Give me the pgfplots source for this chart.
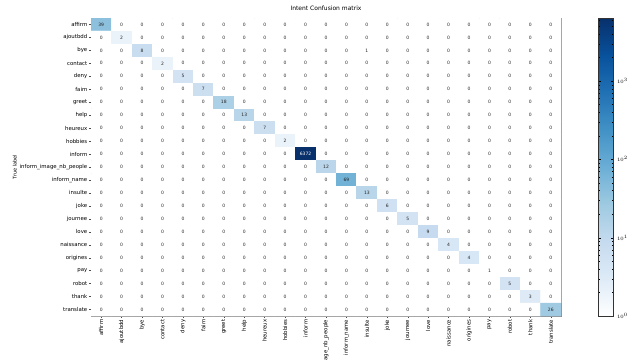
\documentclass[border=0pt]{standalone}
\usepackage{fontspec}
\setmainfont{DejaVu Sans}
\usepackage{pgfplots}
\usepackage{pgfplotstable}
\pgfplotsset{compat=1.18}
\pgfplotstableread[row sep=\\]{
x y v\\
0 0 39\\ 1 0 0\\ 2 0 0\\ 3 0 0\\ 4 0 0\\ 5 0 0\\ 6 0 0\\ 7 0 0\\ 8 0 0\\ 9 0 0\\ 10 0 0\\ 11 0 0\\ 12 0 0\\ 13 0 0\\ 14 0 0\\ 15 0 0\\ 16 0 0\\ 17 0 0\\ 18 0 0\\ 19 0 0\\ 20 0 0\\ 21 0 0\\ 22 0 0\\
0 1 0\\ 1 1 2\\ 2 1 0\\ 3 1 0\\ 4 1 0\\ 5 1 0\\ 6 1 0\\ 7 1 0\\ 8 1 0\\ 9 1 0\\ 10 1 0\\ 11 1 0\\ 12 1 0\\ 13 1 0\\ 14 1 0\\ 15 1 0\\ 16 1 0\\ 17 1 0\\ 18 1 0\\ 19 1 0\\ 20 1 0\\ 21 1 0\\ 22 1 0\\
0 2 0\\ 1 2 0\\ 2 2 8\\ 3 2 0\\ 4 2 0\\ 5 2 0\\ 6 2 0\\ 7 2 0\\ 8 2 0\\ 9 2 0\\ 10 2 0\\ 11 2 0\\ 12 2 0\\ 13 2 1\\ 14 2 0\\ 15 2 0\\ 16 2 0\\ 17 2 0\\ 18 2 0\\ 19 2 0\\ 20 2 0\\ 21 2 0\\ 22 2 0\\
0 3 0\\ 1 3 0\\ 2 3 0\\ 3 3 2\\ 4 3 0\\ 5 3 0\\ 6 3 0\\ 7 3 0\\ 8 3 0\\ 9 3 0\\ 10 3 0\\ 11 3 0\\ 12 3 0\\ 13 3 0\\ 14 3 0\\ 15 3 0\\ 16 3 0\\ 17 3 0\\ 18 3 0\\ 19 3 0\\ 20 3 0\\ 21 3 0\\ 22 3 0\\
0 4 0\\ 1 4 0\\ 2 4 0\\ 3 4 0\\ 4 4 5\\ 5 4 0\\ 6 4 0\\ 7 4 0\\ 8 4 0\\ 9 4 0\\ 10 4 0\\ 11 4 0\\ 12 4 0\\ 13 4 0\\ 14 4 0\\ 15 4 0\\ 16 4 0\\ 17 4 0\\ 18 4 0\\ 19 4 0\\ 20 4 0\\ 21 4 0\\ 22 4 0\\
0 5 0\\ 1 5 0\\ 2 5 0\\ 3 5 0\\ 4 5 0\\ 5 5 7\\ 6 5 0\\ 7 5 0\\ 8 5 0\\ 9 5 0\\ 10 5 0\\ 11 5 0\\ 12 5 0\\ 13 5 0\\ 14 5 0\\ 15 5 0\\ 16 5 0\\ 17 5 0\\ 18 5 0\\ 19 5 0\\ 20 5 0\\ 21 5 0\\ 22 5 0\\
0 6 0\\ 1 6 0\\ 2 6 0\\ 3 6 0\\ 4 6 0\\ 5 6 0\\ 6 6 18\\ 7 6 0\\ 8 6 0\\ 9 6 0\\ 10 6 0\\ 11 6 0\\ 12 6 0\\ 13 6 0\\ 14 6 0\\ 15 6 0\\ 16 6 0\\ 17 6 0\\ 18 6 0\\ 19 6 0\\ 20 6 0\\ 21 6 0\\ 22 6 0\\
0 7 0\\ 1 7 0\\ 2 7 0\\ 3 7 0\\ 4 7 0\\ 5 7 0\\ 6 7 0\\ 7 7 13\\ 8 7 0\\ 9 7 0\\ 10 7 0\\ 11 7 0\\ 12 7 0\\ 13 7 0\\ 14 7 0\\ 15 7 0\\ 16 7 0\\ 17 7 0\\ 18 7 0\\ 19 7 0\\ 20 7 0\\ 21 7 0\\ 22 7 0\\
0 8 0\\ 1 8 0\\ 2 8 0\\ 3 8 0\\ 4 8 0\\ 5 8 0\\ 6 8 0\\ 7 8 0\\ 8 8 7\\ 9 8 0\\ 10 8 0\\ 11 8 0\\ 12 8 0\\ 13 8 0\\ 14 8 0\\ 15 8 0\\ 16 8 0\\ 17 8 0\\ 18 8 0\\ 19 8 0\\ 20 8 0\\ 21 8 0\\ 22 8 0\\
0 9 0\\ 1 9 0\\ 2 9 0\\ 3 9 0\\ 4 9 0\\ 5 9 0\\ 6 9 0\\ 7 9 0\\ 8 9 0\\ 9 9 2\\ 10 9 0\\ 11 9 0\\ 12 9 0\\ 13 9 0\\ 14 9 0\\ 15 9 0\\ 16 9 0\\ 17 9 0\\ 18 9 0\\ 19 9 0\\ 20 9 0\\ 21 9 0\\ 22 9 0\\
0 10 0\\ 1 10 0\\ 2 10 0\\ 3 10 0\\ 4 10 0\\ 5 10 0\\ 6 10 0\\ 7 10 0\\ 8 10 0\\ 9 10 0\\ 10 10 6372\\ 11 10 0\\ 12 10 0\\ 13 10 0\\ 14 10 0\\ 15 10 0\\ 16 10 0\\ 17 10 0\\ 18 10 0\\ 19 10 0\\ 20 10 0\\ 21 10 0\\ 22 10 0\\
0 11 0\\ 1 11 0\\ 2 11 0\\ 3 11 0\\ 4 11 0\\ 5 11 0\\ 6 11 0\\ 7 11 0\\ 8 11 0\\ 9 11 0\\ 10 11 0\\ 11 11 12\\ 12 11 0\\ 13 11 0\\ 14 11 0\\ 15 11 0\\ 16 11 0\\ 17 11 0\\ 18 11 0\\ 19 11 0\\ 20 11 0\\ 21 11 0\\ 22 11 0\\
0 12 0\\ 1 12 0\\ 2 12 0\\ 3 12 0\\ 4 12 0\\ 5 12 0\\ 6 12 0\\ 7 12 0\\ 8 12 0\\ 9 12 0\\ 10 12 0\\ 11 12 0\\ 12 12 69\\ 13 12 0\\ 14 12 0\\ 15 12 0\\ 16 12 0\\ 17 12 0\\ 18 12 0\\ 19 12 0\\ 20 12 0\\ 21 12 0\\ 22 12 0\\
0 13 0\\ 1 13 0\\ 2 13 0\\ 3 13 0\\ 4 13 0\\ 5 13 0\\ 6 13 0\\ 7 13 0\\ 8 13 0\\ 9 13 0\\ 10 13 0\\ 11 13 0\\ 12 13 0\\ 13 13 13\\ 14 13 0\\ 15 13 0\\ 16 13 0\\ 17 13 0\\ 18 13 0\\ 19 13 0\\ 20 13 0\\ 21 13 0\\ 22 13 0\\
0 14 0\\ 1 14 0\\ 2 14 0\\ 3 14 0\\ 4 14 0\\ 5 14 0\\ 6 14 0\\ 7 14 0\\ 8 14 0\\ 9 14 0\\ 10 14 0\\ 11 14 0\\ 12 14 0\\ 13 14 0\\ 14 14 6\\ 15 14 0\\ 16 14 0\\ 17 14 0\\ 18 14 0\\ 19 14 0\\ 20 14 0\\ 21 14 0\\ 22 14 0\\
0 15 0\\ 1 15 0\\ 2 15 0\\ 3 15 0\\ 4 15 0\\ 5 15 0\\ 6 15 0\\ 7 15 0\\ 8 15 0\\ 9 15 0\\ 10 15 0\\ 11 15 0\\ 12 15 0\\ 13 15 0\\ 14 15 0\\ 15 15 5\\ 16 15 0\\ 17 15 0\\ 18 15 0\\ 19 15 0\\ 20 15 0\\ 21 15 0\\ 22 15 0\\
0 16 0\\ 1 16 0\\ 2 16 0\\ 3 16 0\\ 4 16 0\\ 5 16 0\\ 6 16 0\\ 7 16 0\\ 8 16 0\\ 9 16 0\\ 10 16 0\\ 11 16 0\\ 12 16 0\\ 13 16 0\\ 14 16 0\\ 15 16 0\\ 16 16 9\\ 17 16 0\\ 18 16 0\\ 19 16 0\\ 20 16 0\\ 21 16 0\\ 22 16 0\\
0 17 0\\ 1 17 0\\ 2 17 0\\ 3 17 0\\ 4 17 0\\ 5 17 0\\ 6 17 0\\ 7 17 0\\ 8 17 0\\ 9 17 0\\ 10 17 0\\ 11 17 0\\ 12 17 0\\ 13 17 0\\ 14 17 0\\ 15 17 0\\ 16 17 0\\ 17 17 4\\ 18 17 0\\ 19 17 0\\ 20 17 0\\ 21 17 0\\ 22 17 0\\
0 18 0\\ 1 18 0\\ 2 18 0\\ 3 18 0\\ 4 18 0\\ 5 18 0\\ 6 18 0\\ 7 18 0\\ 8 18 0\\ 9 18 0\\ 10 18 0\\ 11 18 0\\ 12 18 0\\ 13 18 0\\ 14 18 0\\ 15 18 0\\ 16 18 0\\ 17 18 0\\ 18 18 4\\ 19 18 0\\ 20 18 0\\ 21 18 0\\ 22 18 0\\
0 19 0\\ 1 19 0\\ 2 19 0\\ 3 19 0\\ 4 19 0\\ 5 19 0\\ 6 19 0\\ 7 19 0\\ 8 19 0\\ 9 19 0\\ 10 19 0\\ 11 19 0\\ 12 19 0\\ 13 19 0\\ 14 19 0\\ 15 19 0\\ 16 19 0\\ 17 19 0\\ 18 19 0\\ 19 19 1\\ 20 19 0\\ 21 19 0\\ 22 19 0\\
0 20 0\\ 1 20 0\\ 2 20 0\\ 3 20 0\\ 4 20 0\\ 5 20 0\\ 6 20 0\\ 7 20 0\\ 8 20 0\\ 9 20 0\\ 10 20 0\\ 11 20 0\\ 12 20 0\\ 13 20 0\\ 14 20 0\\ 15 20 0\\ 16 20 0\\ 17 20 0\\ 18 20 0\\ 19 20 0\\ 20 20 5\\ 21 20 0\\ 22 20 0\\
0 21 0\\ 1 21 0\\ 2 21 0\\ 3 21 0\\ 4 21 0\\ 5 21 0\\ 6 21 0\\ 7 21 0\\ 8 21 0\\ 9 21 0\\ 10 21 0\\ 11 21 0\\ 12 21 0\\ 13 21 0\\ 14 21 0\\ 15 21 0\\ 16 21 0\\ 17 21 0\\ 18 21 0\\ 19 21 0\\ 20 21 0\\ 21 21 3\\ 22 21 0\\
0 22 0\\ 1 22 0\\ 2 22 0\\ 3 22 0\\ 4 22 0\\ 5 22 0\\ 6 22 0\\ 7 22 0\\ 8 22 0\\ 9 22 0\\ 10 22 0\\ 11 22 0\\ 12 22 0\\ 13 22 0\\ 14 22 0\\ 15 22 0\\ 16 22 0\\ 17 22 0\\ 18 22 0\\ 19 22 0\\ 20 22 0\\ 21 22 0\\ 22 22 26\\
}\cm
\begin{document}
\begin{tikzpicture}
\path[use as bounding box] (0,0) rectangle (642pt,359pt);
\begin{axis}[
  at={(91pt,43pt)}, anchor=south west,
  scale only axis, width=470pt, height=298pt,
  xmin=-0.5, xmax=22.5, ymin=-0.5, ymax=22.5,
  y dir=reverse,
  xtick={0,...,22}, ytick={0,...,22},
  xticklabels={affirm,ajoutbdd,bye,contact,deny,faim,greet,help,heureux,hobbies,inform,inform\_image\_nb\_people,inform\_name,insulte,joke,journee,love,naissance,origines,pay,robot,thank,translate},
  yticklabels={affirm,ajoutbdd,bye,contact,deny,faim,greet,help,heureux,hobbies,inform,inform\_image\_nb\_people,inform\_name,insulte,joke,journee,love,naissance,origines,pay,robot,thank,translate},
  xticklabel style={rotate=90, anchor=east, font=\fontsize{5.4}{6}\selectfont, inner sep=1.5pt},
  yticklabel style={font=\fontsize{5.4}{6}\selectfont, inner sep=1.5pt},
  xtick pos=bottom, ytick pos=left, tick align=outside,
  major tick length=2pt, tick style={black!70, line width=0.4pt},
  axis line style={black!45, line width=0.5pt},
  title={Intent Confusion matrix},
  title style={font=\fontsize{6}{7}\selectfont, yshift=-2pt},
  ylabel={True label},
  ylabel style={font=\fontsize{5}{6}\selectfont, yshift=-2pt},
  colormap={blues}{rgb255=(255,255,255) rgb255=(222,235,247) rgb255=(198,219,239) rgb255=(158,202,225) rgb255=(107,174,214) rgb255=(66,146,198) rgb255=(33,113,181) rgb255=(8,81,156) rgb255=(8,48,107)},
  point meta min=0, point meta max=3.8043,
  colorbar,
  colorbar style={
    at={(parent axis.north east)}, anchor=north west, xshift=29pt,
    width=15pt,
    ytick={0,1,2,3},
    yticklabels={$10^{0}$,$10^{1}$,$10^{2}$,$10^{3}$},
    minor ytick={0.301,0.477,0.602,0.699,0.778,0.845,0.903,0.954,1.301,1.477,1.602,1.699,1.778,1.845,1.903,1.954,2.301,2.477,2.602,2.699,2.778,2.845,2.903,2.954,3.301,3.477,3.602,3.699,3.778},
    yticklabel style={font=\fontsize{5}{6}\selectfont},
    major tick length=2.5pt, minor tick length=1.5pt,
    tick style={black},
    axis line style={black!80},
  },
]
\addplot[matrix plot*, mesh/cols=23, point meta={ln(max(\thisrow{v},1))/ln(10)}] table[x=x, y=y] {\cm};
\addplot[draw=none, mark=none, nodes near coords, point meta=explicit symbolic,
  restrict expr to domain={\thisrow{v}}{0:3000},
  every node near coord/.style={anchor=center, font=\fontsize{4.5}{5}\selectfont, text=black!85, inner sep=0pt}]
  table[x=x, y=y, meta=v] {\cm};
\addplot[draw=none, mark=none, nodes near coords, point meta=explicit symbolic,
  restrict expr to domain={\thisrow{v}}{3000:100000},
  every node near coord/.style={anchor=center, font=\fontsize{4.5}{5}\selectfont, text=white, inner sep=0pt}]
  table[x=x, y=y, meta=v] {\cm};
\end{axis}
\end{tikzpicture}
\end{document}
